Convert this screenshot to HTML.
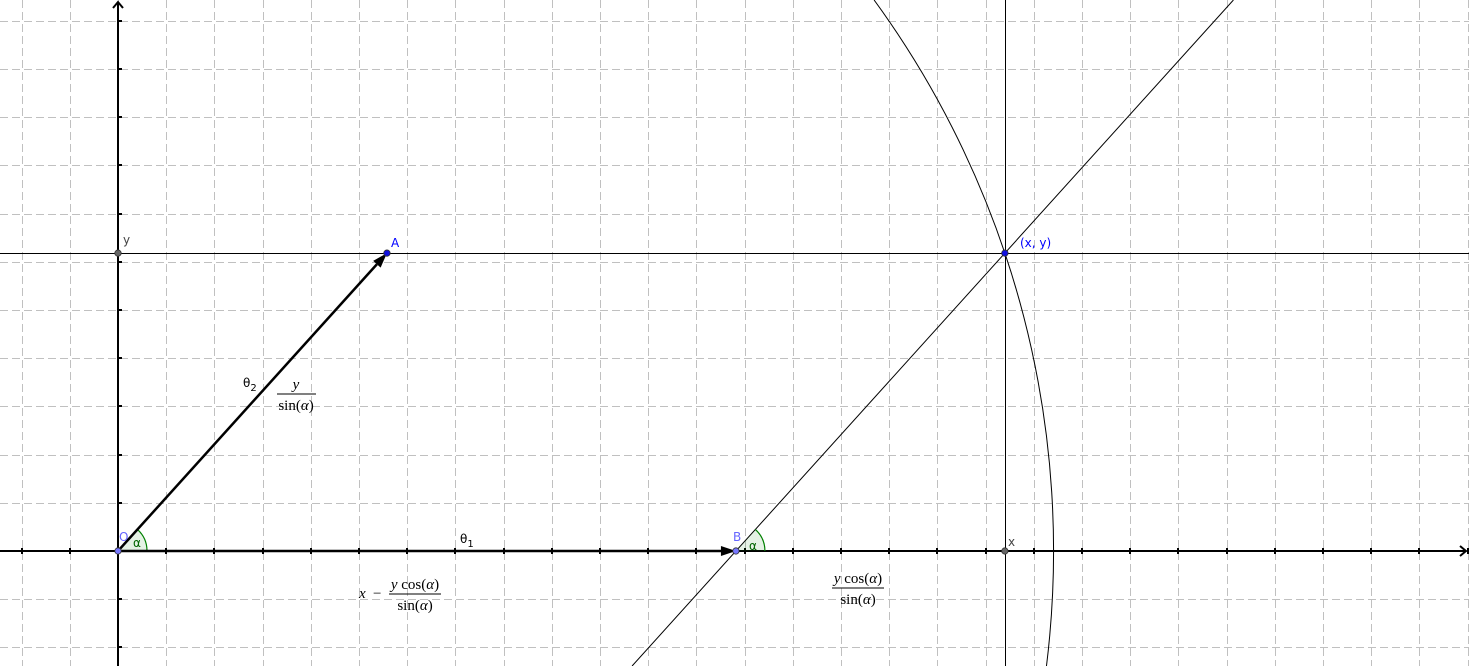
<!DOCTYPE html>
<html><head><meta charset="utf-8"><style>
html,body{margin:0;background:#fff;overflow:hidden;width:1469px;height:666px}
svg{display:block;overflow:hidden}
.m{font-family:"Liberation Serif",serif;font-size:15px;fill:#000}
.l{font-family:"DejaVu Sans","Liberation Sans",sans-serif;font-size:12px}
</style></head><body>
<svg id="c" width="1469" height="666" viewBox="0 0 1469 666" xmlns="http://www.w3.org/2000/svg">
<g id="grid"></g>
<g id="geo"></g>
<g id="labels">
<text class="m" x="296" y="389" text-anchor="middle" font-style="italic">y</text>
<line x1="277" y1="394" x2="316" y2="394" stroke="#000" stroke-width="1"/>
<text class="m" x="296" y="410" text-anchor="middle">sin(<tspan font-style="italic">α</tspan>)</text>
<text class="m" x="359" y="598" font-style="italic">x</text>
<text class="m" x="373" y="598">−</text>
<text class="m" x="415" y="589" text-anchor="middle"><tspan font-style="italic">y</tspan> cos(<tspan font-style="italic">α</tspan>)</text>
<line x1="389" y1="594" x2="441" y2="594" stroke="#000" stroke-width="1"/>
<text class="m" x="415" y="610" text-anchor="middle">sin(<tspan font-style="italic">α</tspan>)</text>
<text class="m" x="858" y="583" text-anchor="middle"><tspan font-style="italic">y</tspan> cos(<tspan font-style="italic">α</tspan>)</text>
<line x1="832" y1="588" x2="884" y2="588" stroke="#000" stroke-width="1"/>
<text class="m" x="858" y="604" text-anchor="middle">sin(<tspan font-style="italic">α</tspan>)</text>
<text class="l" x="243" y="387">θ<tspan font-size="10" dy="4">2</tspan></text>
<text class="l" x="460" y="543">θ<tspan font-size="10" dy="4">1</tspan></text>
<text class="l" x="133" y="547" fill="#006400">α</text>
<text class="l" x="749" y="550" fill="#006400">α</text>
<text class="l" x="123" y="244" fill="#444">y</text>
<text class="l" x="1008" y="546" fill="#444">x</text>
<text class="l" x="391" y="247" fill="#0000ff">A</text>
<text class="l" x="733" y="541" fill="#6666ff">B</text>
<text class="l" x="119" y="541" fill="#6666ff">O</text>
<text class="l" x="1020" y="247" fill="#0000ff">(x, y)</text>
</g>
</svg>
<script>
const pointXY = [18.4, 6.18];
const pointAx = [5.58];
const xRange = [-2.4, 28];
const yRange = [-2.4, 11.4];
const NS = 'http://www.w3.org/2000/svg';
const U = 48.2, OX = 118, OY = 551, W0 = 1469, H0 = 666;
const sx = v => OX + v * U, sy = v => OY - v * U;
const px = v => Math.round(v) + 0.5;
function mk(parent, tag, attrs) {
  const e = document.createElementNS(NS, tag);
  for (const k in attrs) e.setAttribute(k, attrs[k]);
  parent.appendChild(e);
  return e;
}
const grid = document.getElementById('grid'), geo = document.getElementById('geo');
for (let i = Math.ceil(xRange[0]); i <= xRange[1]; i++) {
  const l = mk(grid, 'line', {x1: px(sx(i)), y1: 0, x2: px(sx(i)), y2: H0, stroke: '#c0c0c0', 'stroke-dasharray': '8,4'});
  
  
}
for (let j = Math.ceil(yRange[0]); j <= yRange[1]; j++) {
  const l = mk(grid, 'line', {x1: 0, y1: px(sy(j)), x2: W0, y2: px(sy(j)), stroke: '#c0c0c0', 'stroke-dasharray': '8,4'});
  
  
}
let ax = mk(geo, 'path', {d: `M0 ${OY}H1466M1460 ${OY-5}L1466 ${OY}L1460 ${OY+5}`, stroke: '#000', 'stroke-width': 2, fill: 'none'});


ax = mk(geo, 'path', {d: `M${OX} ${H0}V2M${OX-5} 8L${OX} 2L${OX+5} 8`, stroke: '#000', 'stroke-width': 2, fill: 'none'});


for (let i = Math.ceil(xRange[0]); i <= xRange[1]; i++) {
  if (i === 0) continue;
  const t = mk(geo, 'line', {x1: Math.round(sx(i)), y1: OY - 3, x2: Math.round(sx(i)), y2: OY + 3, stroke: '#000', 'stroke-width': 2});
  
  
}
for (let j = Math.ceil(yRange[0]); j <= yRange[1]; j++) {
  if (j === 0) continue;
  const t = mk(geo, 'line', {x1: OX, y1: Math.round(sy(j)), x2: OX + 4, y2: Math.round(sy(j)), stroke: '#000', 'stroke-width': 2});
  
  
}
const X = pointXY[0], Y = pointXY[1], Ax = pointAx[0], Bx = X - Ax;
const alpha = Math.atan2(Y, Ax);
let e = mk(geo, 'line', {x1: 0, y1: px(sy(Y)), x2: W0, y2: px(sy(Y)), stroke: '#000', 'stroke-width': 1});


e = mk(geo, 'line', {x1: px(sx(X)), y1: 0, x2: px(sx(X)), y2: H0, stroke: '#000', 'stroke-width': 1});


const k = Math.tan(alpha);
const Bpx = sx(Bx);
e = mk(geo, 'line', {x1: Bpx - (H0 - OY) / k, y1: H0, x2: Bpx + OY / k, y2: 0, stroke: '#000', 'stroke-width': 1});


const R = Math.hypot(X, Y) * U;
const topX = OX + Math.sqrt(R * R - OY * OY), botX = OX + Math.sqrt(R * R - (H0 - OY) * (H0 - OY));
e = mk(geo, 'path', {d: `M${topX} 0A${R} ${R} 0 0 1 ${botX} ${H0}`, stroke: '#000', 'stroke-width': 1, fill: 'none'});


function angle(cx, name) {
  const r = 29, ex = cx + r * Math.cos(alpha), ey = OY - r * Math.sin(alpha);
  const a = mk(geo, 'path', {d: `M${cx} ${OY}L${cx + r} ${OY}A${r} ${r} 0 0 0 ${ex} ${ey}Z`, fill: 'rgba(0,128,0,0.1)', stroke: 'none'});
  
  
  const b = mk(geo, 'path', {d: `M${cx + r} ${OY}A${r} ${r} 0 0 0 ${ex} ${ey}`, fill: 'none', stroke: '#008000', 'stroke-width': 1.2});
  
  
}
angle(OX, 'angle-alpha-o');
angle(Bpx, 'angle-alpha-b');
function vec(x1, y1, x2, y2, name) {
  const g = mk(geo, 'g', {});
  
  
  const ang = Math.atan2(y2 - y1, x2 - x1), L = 15, W = 5;
  const bx = x2 - L * Math.cos(ang), by = y2 - L * Math.sin(ang);
  mk(g, 'line', {x1, y1, x2: bx, y2: by, stroke: '#000', 'stroke-width': 2.5});
  mk(g, 'polygon', {points: `${x2},${y2} ${bx - W * Math.sin(ang)},${by + W * Math.cos(ang)} ${bx + W * Math.sin(ang)},${by - W * Math.cos(ang)}`, fill: '#000'});
}
vec(OX, OY, sx(Ax), sy(Y), 'vector-theta2');
vec(OX, OY, Bpx, OY, 'vector-theta1');
function pt(x, y, fill, name) {
  const c = mk(geo, 'circle', {cx: sx(x), cy: sy(y), r: 3.2, fill, stroke: '#333', 'stroke-width': 0.8});
  
  
}
pt(0, Y, '#666', 'point-y');
pt(X, 0, '#666', 'point-x');
pt(0, 0, '#7777ff', 'point-o');
pt(Bx, 0, '#7777ff', 'point-b');
pt(Ax, Y, '#1010e0', 'point-a');
pt(X, Y, '#1010e0', 'point-xy');
</script>
</body></html>
